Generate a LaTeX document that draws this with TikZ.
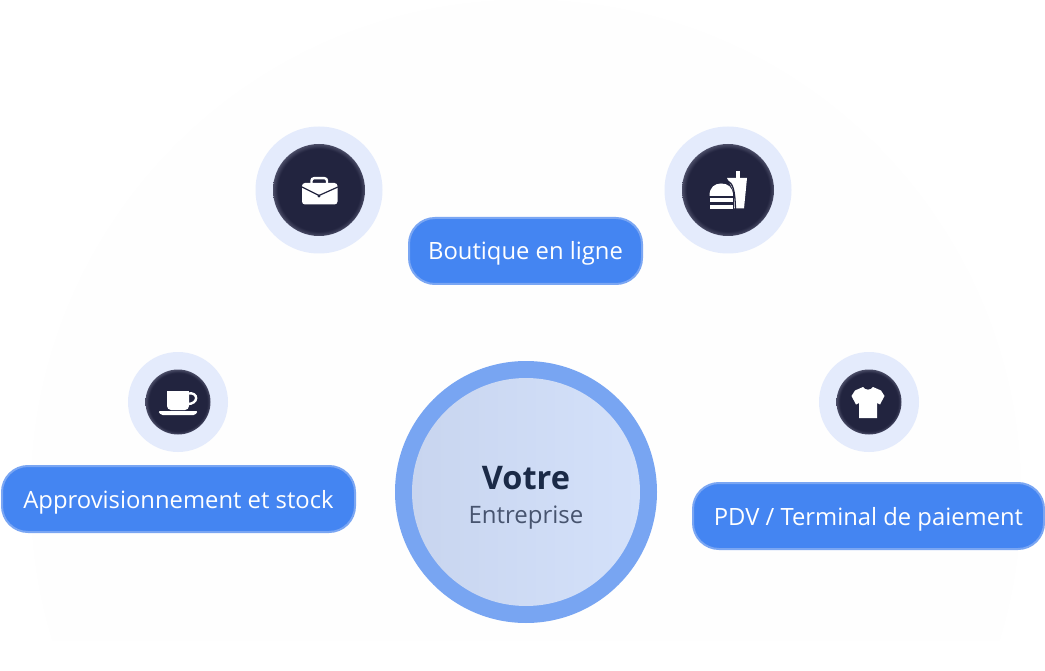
\documentclass[tikz,border=0pt]{standalone}
\usepackage{fontspec}
\setmainfont{Open Sans}
\definecolor{dk}{HTML}{22243F}
\definecolor{dkedge}{HTML}{4A4C66}
\definecolor{halo}{HTML}{E4EBFC}
\definecolor{ringc}{HTML}{78A5F2}
\definecolor{pillc}{HTML}{4485F2}
\definecolor{pilledge}{HTML}{7AA6F3}
\definecolor{discl}{HTML}{C8D5EF}
\definecolor{discr}{HTML}{D4E1FA}
\definecolor{vot}{HTML}{1B2A47}
\definecolor{ent}{HTML}{47546F}
\definecolor{bgdisc}{HTML}{FEFEFE}
\pgfdeclareradialshading{darkball}{\pgfpoint{0bp}{0bp}}{color(0bp)=(dk);color(22.5bp)=(dk);color(25bp)=(dkedge);color(50bp)=(dkedge)}
\tikzset{
  x=1pt,y=-1pt,
  halodisc/.style={circle,fill=halo,inner sep=0pt,minimum size=#1},
  darkdisc/.style={circle,shading=darkball,inner sep=0pt,minimum size=#1},
  pill/.style={draw=pilledge,line width=2pt,fill=pillc,rounded corners=26pt,text=white,font=\fontsize{23.8}{26}\selectfont,minimum height=66pt,inner sep=0pt,anchor=center},
  ico/.style={fill=white,draw=none}
}
\begin{document}
\begin{tikzpicture}
\useasboundingbox (0,0) rectangle (1045,671);
\fill[white] (0,0) rectangle (1045,671);
\begin{scope}
\clip (0,0) rectangle (1045,640);
\fill[bgdisc] (526,495) circle (495);
\end{scope}

% halos and dark discs
\node[halodisc=127pt] (h1) at (319,190) {};
\node[darkdisc=92pt] (d1) at (319,190) {};
\node[halodisc=127pt] (h2) at (728,190) {};
\node[darkdisc=92pt] (d2) at (728,190) {};
\node[halodisc=100pt] (h3) at (178,402) {};
\node[darkdisc=65pt] (d3) at (178,402) {};
\node[halodisc=100pt] (h4) at (869,402) {};
\node[darkdisc=65pt] (d4) at (869,402) {};

% briefcase
\fill[ico,rounded corners=3pt] (302,183) -- (337.5,183) -- (337.5,204.5) -- (302,204.5) -- cycle;
\draw[white,line width=2.4pt,rounded corners=2.5pt] (311.5,184) -- (311.5,178.2) -- (327,178.2) -- (327,184);
\draw[dk,line width=1.2pt] (301,186.5) -- (319,195.5) -- (339,186.5);
\fill[dk] (319,196) circle (1.6);

% burger and drink
\fill[ico] (727,178) -- (747,178) -- (744,208.5) -- (734,208.5) -- (734,192) -- cycle;
\fill[ico] (736,171) rectangle (739.5,178);
\draw[dk,line width=1.3pt] (727,180.5) .. controls (733,183) and (735,190) .. (735.5,210);
\fill[ico] (709.5,195.8) .. controls (709.5,187) and (715,183.5) .. (721,183.5) .. controls (728,183.5) and (733,187) .. (733,195.8) -- cycle;
\fill[ico] (709.5,198) rectangle (733,202);
\fill[ico] (709.5,205) rectangle (733,209);

% cup
\fill[ico,rounded corners=4pt] (167,391) -- (189,391) -- (189,410) -- (167,410) -- cycle;
\fill[ico] (167,391) rectangle (189,400);
\draw[white,line width=2.4pt] (188,393.5) .. controls (199,391.5) and (199,404.5) .. (187,404);
\fill[ico,rounded corners=1.5pt] (158,411) -- (198,411) -- (195,415) -- (161,415) -- cycle;

% shirt
\fill[ico] (859,418) -- (877,418) -- (877,403) -- (880,404.5) -- (884.5,396) -- (881,390.5) -- (873,387) .. controls (871,390.5) and (865,390.5) .. (863,387) -- (855,390.5) -- (851.5,396) -- (856,404.5) -- (859,403) -- cycle;

% centre
\node[circle,fill=ringc,inner sep=0pt,minimum size=262pt] (ring) at (526,492) {};
\node[circle,left color=discl,right color=discr,inner sep=0pt,minimum size=228pt] (disc) at (526,492) {};
\node[text=vot,font=\fontsize{32.5}{36}\selectfont\bfseries,inner sep=0pt] (votre) at (526,478.5) {Votre};
\node[text=ent,font=\fontsize{24}{26}\selectfont,inner sep=0pt] (entr) at (526,517.5) {Entreprise};

% pills
\node[pill,minimum width=233pt] (p1) at (525.5,251) {\raisebox{-9pt}[0pt][0pt]{Boutique en ligne}};
\node[pill,minimum width=353pt] (p2) at (178.5,499) {\raisebox{-9pt}[0pt][0pt]{Approvisionnement et stock}};
\node[pill,minimum width=351pt] (p3) at (868.5,516) {\raisebox{-9pt}[0pt][0pt]{PDV / Terminal de paiement}};
\end{tikzpicture}
\end{document}
